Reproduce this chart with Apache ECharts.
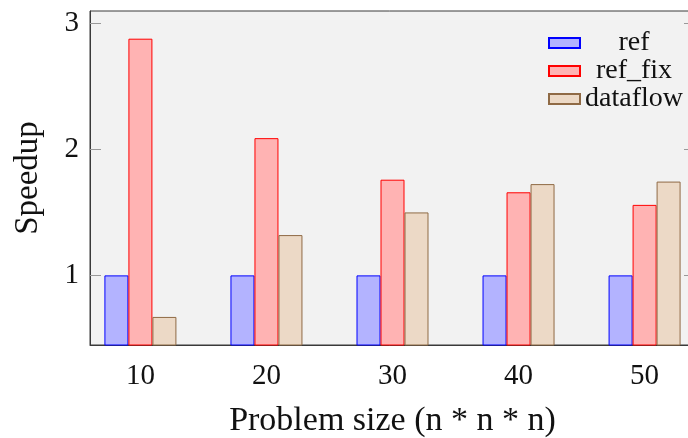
<!DOCTYPE html>
<html>
<head>
<meta charset="utf-8">
<script src="https://cdn.jsdelivr.net/npm/echarts@6/dist/echarts.min.js"></script>
<style>
html,body{margin:0;padding:0;background:#fff;}
#c{width:688px;height:438px;}
</style>
</head>
<body>
<div id="c"></div>
<script>
const sizes = [10, 20, 30, 40, 50];
const refVals = [1, 1, 1, 1, 1];
const refFixVals = [2.88, 2.09, 1.76, 1.66, 1.56];
const dataflowVals = [0.67, 1.32, 1.50, 1.725, 1.745];
const yTicks = [1, 2, 3];
const xTicks = [10, 20, 30, 40, 50];

const FONT = '"Liberation Serif", "DejaVu Serif", serif';
const chart = echarts.init(document.getElementById('c'));

function mk(vals) { return sizes.map((s, i) => [s, vals[i]]); }

chart.setOption({
  animation: false,
  grid: {
    left: 90, right: -7, top: 11, bottom: 93,
    outerBoundsMode: 'none', containLabel: false,
    show: true, backgroundColor: '#f2f2f2', borderColor: '#3a3a3a', borderWidth: 1
  },
  legend: {
    orient: 'vertical',
    left: 548, top: 29, padding: 0,
    icon: 'rect',
    itemWidth: 31, itemHeight: 10, itemGap: 0,
    selectedMode: false,
    formatter: '{c|{name}}',
    textStyle: {
      fontFamily: FONT, fontSize: 28, color: '#111',
      rich: { c: { width: 98, align: 'center', fontFamily: FONT, fontSize: 28, lineHeight: 28, color: '#111' } }
    },
    data: ['ref', 'ref_fix', 'dataflow']
  },
  xAxis: {
    type: 'value', min: 6, max: 54,
    splitLine: { show: false },
    axisLine: { show: true, onZero: false, lineStyle: { color: '#3a3a3a', width: 1 } },
    axisTick: { show: false },
    axisLabel: { customValues: xTicks, fontFamily: FONT, fontSize: 29, color: '#111', margin: 17 },
    name: 'Problem size (n * n * n)',
    nameLocation: 'middle', nameGap: 59,
    nameTextStyle: { fontFamily: FONT, fontSize: 34, color: '#111' }
  },
  yAxis: [{
    type: 'value', min: 0.447, max: 3.1,
    splitLine: { show: false },
    axisLine: { show: true, lineStyle: { color: '#3a3a3a', width: 1 } },
    axisTick: { show: true, inside: true, length: 11, customValues: yTicks, lineStyle: { color: '#999' } },
    axisLabel: { customValues: yTicks, fontFamily: FONT, fontSize: 29, color: '#111', margin: 11 },
    name: 'Speedup',
    nameLocation: 'middle', nameGap: 45, nameRotate: 90,
    nameTextStyle: { fontFamily: FONT, fontSize: 33, color: '#111' }
  }, {
    type: 'value', min: 0.447, max: 3.1, position: 'right',
    splitLine: { show: false },
    axisLine: { show: false },
    axisTick: { show: true, inside: true, length: 11, customValues: yTicks, lineStyle: { color: '#999' } },
    axisLabel: { show: false }
  }],
  series: [
    { name: 'ref', type: 'bar', data: mk(refVals), barWidth: 24, barGap: '0%',
      itemStyle: { color: '#b3b3ff', borderColor: '#0000ff', borderWidth: 1 } },
    { name: 'ref_fix', type: 'bar', data: mk(refFixVals), barWidth: 24, barGap: '0%',
      itemStyle: { color: '#ffb3b3', borderColor: '#ff0000', borderWidth: 1 } },
    { name: 'dataflow', type: 'bar', data: mk(dataflowVals), barWidth: 24, barGap: '0%',
      itemStyle: { color: '#ecd9c6', borderColor: '#8f6a45', borderWidth: 1 } }
  ]
});
</script>
</body>
</html>
